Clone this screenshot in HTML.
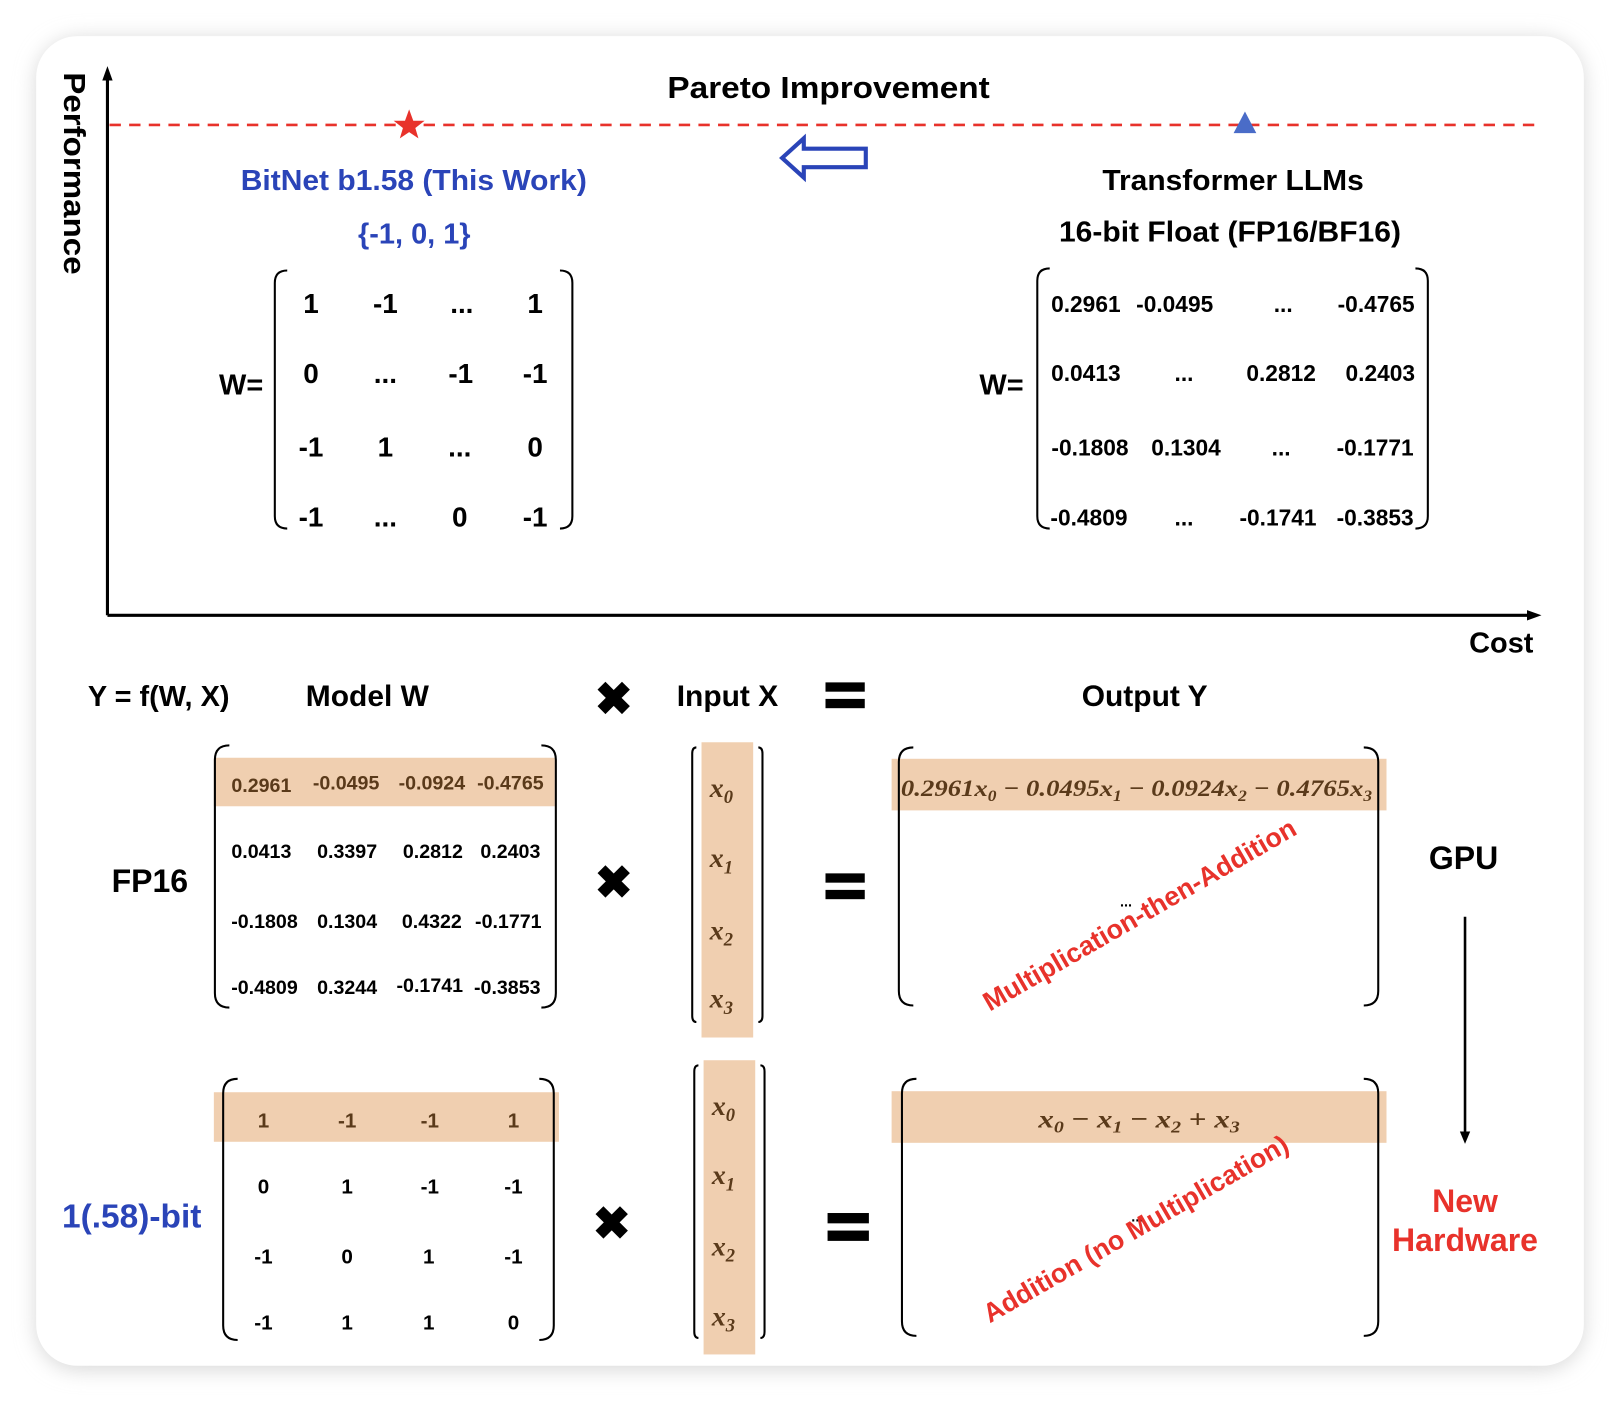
<!DOCTYPE html>
<html><head><meta charset="utf-8"><style>
html,body{margin:0;padding:0;background:#fff;}
svg{display:block;}
text{font-family:"Liberation Sans",sans-serif;font-weight:bold;}
.m{font-family:"Liberation Serif",serif;font-style:italic;font-weight:bold;fill:#5a3a1a;}
</style></head><body>
<svg width="1620" height="1404" viewBox="0 0 1568 1360" preserveAspectRatio="none" xmlns="http://www.w3.org/2000/svg">
<defs><filter id="sh" x="-5%" y="-5%" width="110%" height="110%"><feGaussianBlur stdDeviation="10"/></filter></defs>
<rect x="0" y="0" width="1568" height="1360" fill="#fff"/>
<rect x="35" y="37" width="1498" height="1290" rx="42" fill="#d8d8d8" filter="url(#sh)"/>
<rect x="35" y="35" width="1498" height="1288" rx="40" fill="#fff"/>

<line x1="104" y1="72" x2="104" y2="596" stroke="#000" stroke-width="3"/>
<polygon points="104,64 99,78 109,78" fill="#000"/>
<line x1="104" y1="596" x2="1484" y2="596" stroke="#000" stroke-width="3"/>
<polygon points="1492,596 1478,591 1478,601" fill="#000"/>
<text transform="translate(62,70) rotate(90)" font-size="30" textLength="196" lengthAdjust="spacingAndGlyphs">Performance</text>
<text x="1422" y="632" font-size="28">Cost</text>
<line x1="106" y1="121" x2="1490" y2="121" stroke="#e8322b" stroke-width="2.5" stroke-dasharray="11,8"/>
<text x="646" y="95" font-size="30" textLength="312" lengthAdjust="spacingAndGlyphs">Pareto Improvement</text>
<polygon points="396,106 400,117 411,117 402,124 405,134 396,128 387,134 390,124 381,117 392,117" fill="#e8322b"/>
<polygon points="1205,108 1216,129 1194,129" fill="#4a6cc8"/>
<path d="M838,144 L778,144 L778,134 L757,153 L778,172 L778,162 L838,162 Z" fill="#fff" stroke="#2a44b8" stroke-width="4"/>

<text x="233" y="184" font-size="28" fill="#2a44b8" textLength="335" lengthAdjust="spacingAndGlyphs">BitNet b1.58 (This Work)</text>
<text x="401" y="236" font-size="28" fill="#2a44b8" text-anchor="middle">{-1, 0, 1}</text>
<text x="1067" y="184" font-size="28" textLength="253" lengthAdjust="spacingAndGlyphs">Transformer LLMs</text>
<text x="1025" y="234" font-size="28" textLength="331" lengthAdjust="spacingAndGlyphs">16-bit Float (FP16/BF16)</text>

<text x="212" y="382" font-size="28">W=</text>
<path d="M278,262 Q266,262 266,274 L266,500 Q266,512 278,512" fill="none" stroke="#000" stroke-width="2"/>
<path d="M542,262 Q554,262 554,274 L554,500 Q554,512 542,512" fill="none" stroke="#000" stroke-width="2"/>
<g font-size="27" text-anchor="middle">
<text x="301" y="303">1</text><text x="373" y="303">-1</text><text x="447" y="303">...</text><text x="518" y="303">1</text>
<text x="301" y="371">0</text><text x="373" y="371">...</text><text x="446" y="371">-1</text><text x="518" y="371">-1</text>
<text x="301" y="442">-1</text><text x="373" y="442">1</text><text x="445" y="442">...</text><text x="518" y="442">0</text>
<text x="301" y="510">-1</text><text x="373" y="510">...</text><text x="445" y="510">0</text><text x="518" y="510">-1</text>
</g>
<text x="948" y="382" font-size="28">W=</text>
<path d="M1016,260 Q1004,260 1004,272 L1004,500 Q1004,512 1016,512" fill="none" stroke="#000" stroke-width="2"/>
<path d="M1370,260 Q1382,260 1382,272 L1382,500 Q1382,512 1370,512" fill="none" stroke="#000" stroke-width="2"/>
<g font-size="22" text-anchor="middle">
<text x="1051" y="302">0.2961</text><text x="1137" y="302">-0.0495</text><text x="1242" y="302">...</text><text x="1332" y="302">-0.4765</text>
<text x="1051" y="369">0.0413</text><text x="1146" y="369">...</text><text x="1240" y="369">0.2812</text><text x="1336" y="369">0.2403</text>
<text x="1055" y="441">-0.1808</text><text x="1148" y="441">0.1304</text><text x="1240" y="441">...</text><text x="1331" y="441">-0.1771</text>
<text x="1054" y="509">-0.4809</text><text x="1146" y="509">...</text><text x="1237" y="509">-0.1741</text><text x="1331" y="509">-0.3853</text>
</g>

<text x="85" y="684" font-size="28">Y = f(W, X)</text>
<text x="296" y="684" font-size="29">Model W</text>
<text x="655" y="684" font-size="29">Input X</text>
<text x="1047" y="684" font-size="29">Output Y</text>
<g font-size="44" text-anchor="middle"><text x="594" y="692">✖</text><text x="594" y="870">✖</text><text x="592" y="1200">✖</text></g>
<g fill="#000">
<rect x="799" y="661" width="38" height="9"/><rect x="799" y="677" width="38" height="9"/>
<rect x="799" y="846" width="38" height="9"/><rect x="799" y="862" width="38" height="9"/>
<rect x="801" y="1175" width="40" height="10"/><rect x="801" y="1192" width="40" height="10"/>
</g>

<text x="108" y="864" font-size="31">FP16</text>
<rect x="207" y="734" width="330" height="47" fill="#f0cfb0"/>
<path d="M222,722 Q208,722 208,736 L208,962 Q208,976 222,976" fill="none" stroke="#000" stroke-width="2"/>
<path d="M524,722 Q538,722 538,736 L538,962 Q538,976 524,976" fill="none" stroke="#000" stroke-width="2"/>
<g font-size="19" text-anchor="middle">
<text x="253" y="767" fill="#5a3a1a">0.2961</text><text x="335" y="765" fill="#5a3a1a">-0.0495</text><text x="418" y="765" fill="#5a3a1a">-0.0924</text><text x="494" y="765" fill="#5a3a1a">-0.4765</text>
<text x="253" y="831">0.0413</text><text x="336" y="831">0.3397</text><text x="419" y="831">0.2812</text><text x="494" y="831">0.2403</text>
<text x="256" y="899">-0.1808</text><text x="336" y="899">0.1304</text><text x="418" y="899">0.4322</text><text x="492" y="899">-0.1771</text>
<text x="256" y="963">-0.4809</text><text x="336" y="963">0.3244</text><text x="416" y="961">-0.1741</text><text x="491" y="963">-0.3853</text>
</g>
<rect x="679" y="719" width="50" height="286" fill="#f0cfb0"/>
<path d="M674,724 Q670,724 670,730 L670,984 Q670,990 674,990" fill="none" stroke="#000" stroke-width="2"/>
<path d="M734,724 Q738,724 738,730 L738,984 Q738,990 734,990" fill="none" stroke="#000" stroke-width="2"/>
<g font-size="27"><text class="m" x="687" y="772">x<tspan font-size="18" dy="6">0</tspan></text><text class="m" x="687" y="840">x<tspan font-size="18" dy="6">1</tspan></text><text class="m" x="687" y="910">x<tspan font-size="18" dy="6">2</tspan></text><text class="m" x="687" y="976">x<tspan font-size="18" dy="6">3</tspan></text></g>

<rect x="863" y="735" width="479" height="50" fill="#f0cfb0"/>
<path d="M884,724 Q870,724 870,738 L870,960 Q870,974 884,974" fill="none" stroke="#000" stroke-width="2"/>
<path d="M1320,724 Q1334,724 1334,738 L1334,960 Q1334,974 1320,974" fill="none" stroke="#000" stroke-width="2"/>
<text class="m" x="872" y="771" font-size="23" font-style="normal" textLength="456" lengthAdjust="spacingAndGlyphs">0.2961<tspan font-style="italic">x</tspan><tspan font-size="15" dy="5">0</tspan><tspan dy="-5"> − 0.0495</tspan><tspan font-style="italic">x</tspan><tspan font-size="15" dy="5">1</tspan><tspan dy="-5"> − 0.0924</tspan><tspan font-style="italic">x</tspan><tspan font-size="15" dy="5">2</tspan><tspan dy="-5"> − 0.4765</tspan><tspan font-style="italic">x</tspan><tspan font-size="15" dy="5">3</tspan></text>
<text x="1084" y="878" font-size="14" font-weight="normal">...</text>
<text transform="translate(958,980) rotate(-30)" font-size="26" fill="#e8322b">Multiplication-then-Addition</text>

<text x="1383" y="842" font-size="31">GPU</text>
<line x1="1418" y1="888" x2="1418" y2="1098" stroke="#000" stroke-width="2.5"/>
<polygon points="1418,1108 1413,1096 1423,1096" fill="#000"/>
<text x="1418" y="1174" font-size="31" fill="#e8322b" text-anchor="middle">New</text>
<text x="1418" y="1212" font-size="31" fill="#e8322b" text-anchor="middle">Hardware</text>

<text x="60" y="1189" font-size="32" fill="#2a44b8" textLength="135" lengthAdjust="spacingAndGlyphs">1(.58)-bit</text>
<rect x="207" y="1058" width="334" height="48" fill="#f0cfb0"/>
<path d="M230,1045 Q216,1045 216,1059 L216,1284 Q216,1298 230,1298" fill="none" stroke="#000" stroke-width="2"/>
<path d="M522,1045 Q536,1045 536,1059 L536,1284 Q536,1298 522,1298" fill="none" stroke="#000" stroke-width="2"/>
<g font-size="20" text-anchor="middle">
<text x="255" y="1092" fill="#5a3a1a">1</text><text x="336" y="1092" fill="#5a3a1a">-1</text><text x="416" y="1092" fill="#5a3a1a">-1</text><text x="497" y="1092" fill="#5a3a1a">1</text>
<text x="255" y="1156">0</text><text x="336" y="1156">1</text><text x="416" y="1156">-1</text><text x="497" y="1156">-1</text>
<text x="255" y="1224">-1</text><text x="336" y="1224">0</text><text x="415" y="1224">1</text><text x="497" y="1224">-1</text>
<text x="255" y="1288">-1</text><text x="336" y="1288">1</text><text x="415" y="1288">1</text><text x="497" y="1288">0</text>
</g>
<rect x="681" y="1027" width="50" height="285" fill="#f0cfb0"/>
<path d="M676,1032 Q672,1032 672,1038 L672,1290 Q672,1296 676,1296" fill="none" stroke="#000" stroke-width="2"/>
<path d="M736,1032 Q740,1032 740,1038 L740,1290 Q740,1296 736,1296" fill="none" stroke="#000" stroke-width="2"/>
<g font-size="27"><text class="m" x="689" y="1080">x<tspan font-size="18" dy="6">0</tspan></text><text class="m" x="689" y="1147">x<tspan font-size="18" dy="6">1</tspan></text><text class="m" x="689" y="1216">x<tspan font-size="18" dy="6">2</tspan></text><text class="m" x="689" y="1284">x<tspan font-size="18" dy="6">3</tspan></text></g>

<rect x="863" y="1057" width="479" height="50" fill="#f0cfb0"/>
<path d="M887,1045 Q873,1045 873,1059 L873,1280 Q873,1294 887,1294" fill="none" stroke="#000" stroke-width="2"/>
<path d="M1320,1045 Q1334,1045 1334,1059 L1334,1280 Q1334,1294 1320,1294" fill="none" stroke="#000" stroke-width="2"/>
<text class="m" x="1005" y="1092" font-size="25" textLength="195" lengthAdjust="spacingAndGlyphs">x<tspan font-size="16" dy="5">0</tspan><tspan dy="-5" font-style="normal"> − </tspan>x<tspan font-size="16" dy="5">1</tspan><tspan dy="-5" font-style="normal"> − </tspan>x<tspan font-size="16" dy="5">2</tspan><tspan dy="-5" font-style="normal"> + </tspan>x<tspan font-size="16" dy="5">3</tspan></text>
<text x="1095" y="1183" font-size="14" font-weight="normal">...</text>
<text transform="translate(958,1282) rotate(-30)" font-size="26" fill="#e8322b">Addition (no Multiplication)</text>
</svg>
</body></html>
